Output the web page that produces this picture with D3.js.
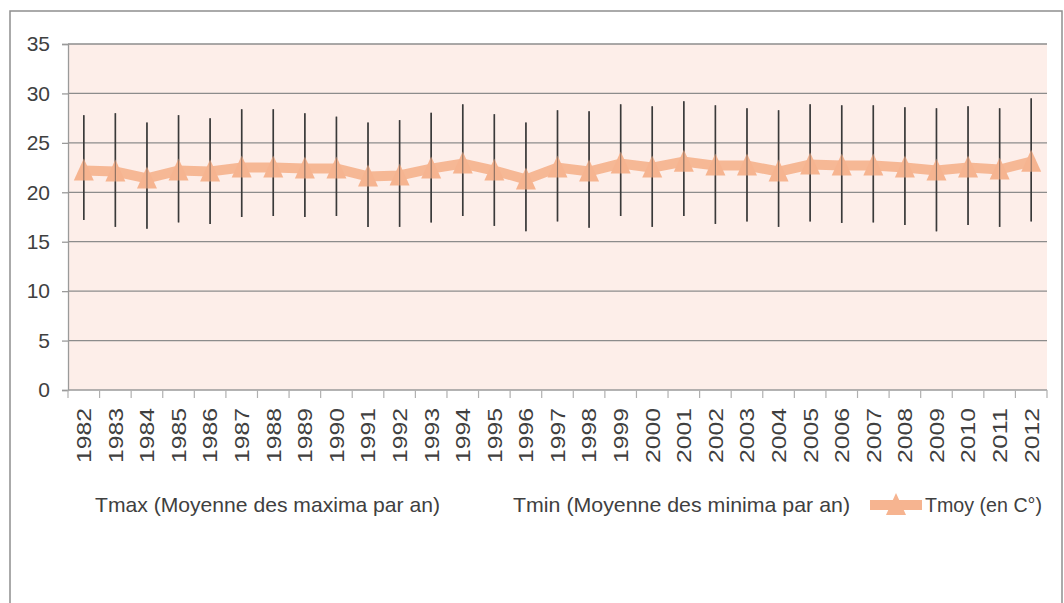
<!DOCTYPE html>
<html>
<head>
<meta charset="utf-8">
<script src="https://cdn.jsdelivr.net/npm/d3@7"></script>
<style>
  body { margin: 0; background: #fff; }
  svg text { font-family: "Liberation Sans", Arial, sans-serif; fill: #404040; }
</style>
</head>
<body>
<div id="chart"></div>
<script>
// valeurs
const years = d3.range(1982, 2013).map(String);
const tmax = [27.8, 28.0, 27.05, 27.8, 27.5, 28.4, 28.4, 28.0,
              27.65, 27.05, 27.3, 28.05, 28.9, 27.9, 27.05,
              28.3, 28.2, 28.9, 28.7, 29.2, 28.8, 28.5, 28.3,
              28.9, 28.8, 28.8, 28.6, 28.5, 28.7, 28.5, 29.5];
const tmin = [17.2, 16.5, 16.3, 16.95, 16.8, 17.5, 17.6, 17.5,
              17.6, 16.5, 16.5, 16.95, 17.6, 16.6, 16.05,
              17.05, 16.4, 17.6, 16.5, 17.6, 16.8, 17.05, 16.5,
              17.05, 16.9, 16.95, 16.7, 16.05, 16.7, 16.5, 17.05];
const tmoy = [22.2, 22.1, 21.4, 22.2, 22.1, 22.5, 22.5, 22.4,
              22.4, 21.6, 21.7, 22.4, 22.9, 22.2, 21.3,
              22.5, 22.1, 22.9, 22.5, 23.1, 22.7, 22.7, 22.1,
              22.8, 22.7, 22.7, 22.5, 22.2, 22.5, 22.3, 23.1];
const yTicks = [0, 5, 10, 15, 20, 25, 30, 35];
const legendLabels = ["Tmax (Moyenne des maxima par an)", "Tmin (Moyenne des minima par an)", "Tmoy (en C°)"];

const W = 1064, H = 603;
const pLeft = 68, pRight = 1047, pTop = 44, pBottom = 390;
const moyColor = "#f6b490";

const svg = d3.select("#chart").append("svg")
    .attr("width", W).attr("height", H);

// cadre
svg.append("rect")
    .attr("x", 10).attr("y", 11).attr("width", 1052).attr("height", 610)
    .attr("fill", "#fff").attr("stroke", "#8f8f8f").attr("stroke-width", 1.5);

const x = d3.scaleBand().domain(years).range([pLeft, pRight]).padding(0);
const y = d3.scaleLinear().domain([0, 35]).range([pBottom, pTop]);

// fond de la zone de tracé
svg.append("rect")
    .attr("x", pLeft).attr("y", pTop)
    .attr("width", pRight - pLeft).attr("height", pBottom - pTop)
    .attr("fill", "#fdeee9");

// quadrillage
svg.append("g").selectAll("line")
    .data(yTicks.filter(d => d > 0))
    .join("line")
    .attr("x1", pLeft).attr("x2", pRight)
    .attr("y1", d => y(d)).attr("y2", d => y(d))
    .attr("stroke", "#8c8c8c").attr("stroke-width", 1.3);

// axe Y
const yAxis = svg.append("g")
    .attr("transform", `translate(${pLeft},0)`)
    .call(d3.axisLeft(y).tickValues(yTicks).tickSize(6).tickPadding(12));
yAxis.select(".domain").attr("stroke", "#9a9a9a").attr("stroke-width", 1.3);
yAxis.selectAll(".tick line").attr("stroke", "#9a9a9a").attr("stroke-width", 1.3);
yAxis.selectAll(".tick text").attr("font-size", 21).attr("fill", "#404040")
    .attr("font-family", "Liberation Sans, Arial, sans-serif");

// axe X
svg.append("line")
    .attr("x1", pLeft).attr("x2", pRight)
    .attr("y1", pBottom).attr("y2", pBottom)
    .attr("stroke", "#9a9a9a").attr("stroke-width", 1.3);
svg.append("g").selectAll("line")
    .data(years.concat(["end"]))
    .join("line")
    .attr("x1", (d, i) => pLeft + i * x.bandwidth())
    .attr("x2", (d, i) => pLeft + i * x.bandwidth())
    .attr("y1", pBottom).attr("y2", pBottom + 8)
    .attr("stroke", "#b0b0b0").attr("stroke-width", 1.2);
svg.append("g").selectAll("text")
    .data(years)
    .join("text")
    .attr("transform", d => `translate(${x(d) + x.bandwidth() / 2},${pBottom + 18}) rotate(-90)`)
    .attr("text-anchor", "end")
    .attr("dy", "0.35em")
    .attr("font-size", 21)
    .attr("textLength", 55)
    .attr("lengthAdjust", "spacingAndGlyphs")
    .text(d => d);

// lignes haut-bas Tmin -> Tmax
svg.append("g").selectAll("line")
    .data(years)
    .join("line")
    .attr("x1", d => x(d) + x.bandwidth() / 2)
    .attr("x2", d => x(d) + x.bandwidth() / 2)
    .attr("y1", (d, i) => y(tmin[i]))
    .attr("y2", (d, i) => y(tmax[i]))
    .attr("stroke", "#3a3a3a").attr("stroke-width", 1.6);

// Tmoy
const line = d3.line()
    .x((d, i) => x(years[i]) + x.bandwidth() / 2)
    .y(d => y(d));
svg.append("path")
    .datum(tmoy)
    .attr("d", line)
    .attr("fill", "none")
    .attr("stroke", moyColor)
    .attr("stroke-width", 10)
    .attr("stroke-opacity", 0.95);

const tri = "M0,-12L10,10L-10,10Z";
svg.append("g").selectAll("path")
    .data(tmoy)
    .join("path")
    .attr("transform", (d, i) => `translate(${x(years[i]) + x.bandwidth() / 2},${y(d)})`)
    .attr("d", tri)
    .attr("fill", moyColor);

// redessine les lignes haut-bas par-dessus (comme Excel)
svg.append("g").selectAll("line")
    .data(years)
    .join("line")
    .attr("x1", d => x(d) + x.bandwidth() / 2)
    .attr("x2", d => x(d) + x.bandwidth() / 2)
    .attr("y1", (d, i) => y(tmin[i]))
    .attr("y2", (d, i) => y(tmax[i]))
    .attr("stroke", "#3a3a3a").attr("stroke-width", 1.2)
    .attr("stroke-opacity", 0.55);

// légende
const lg = svg.append("g");
const legendY = 512;
lg.append("text").attr("x", 95).attr("y", legendY).attr("font-size", 21)
    .attr("textLength", 345).attr("lengthAdjust", "spacingAndGlyphs")
    .text(legendLabels[0]);
lg.append("text").attr("x", 513).attr("y", legendY).attr("font-size", 21)
    .attr("textLength", 337).attr("lengthAdjust", "spacingAndGlyphs")
    .text(legendLabels[1]);
lg.append("line")
    .attr("x1", 870).attr("x2", 922)
    .attr("y1", 505).attr("y2", 505)
    .attr("stroke", moyColor).attr("stroke-width", 10);
lg.append("path")
    .attr("transform", "translate(896,505)")
    .attr("d", tri)
    .attr("fill", moyColor);
lg.append("text").attr("x", 925).attr("y", legendY).attr("font-size", 21)
    .attr("textLength", 117).attr("lengthAdjust", "spacingAndGlyphs")
    .text(legendLabels[2]);
</script>
</body>
</html>
